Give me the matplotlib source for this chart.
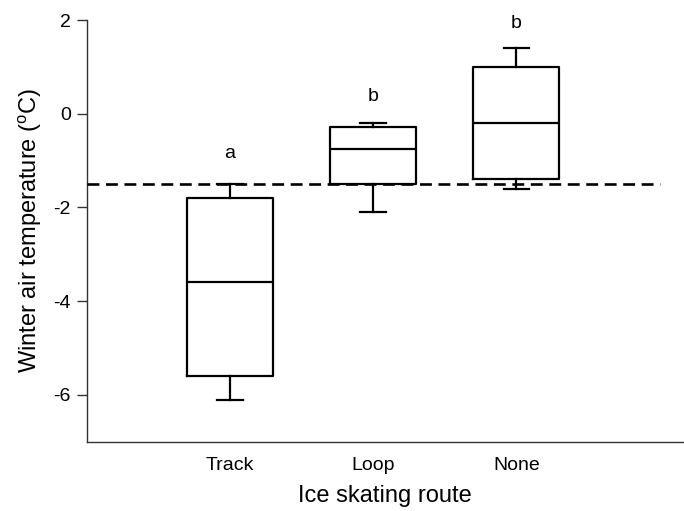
import matplotlib
matplotlib.use("Agg")
import matplotlib.pyplot as plt

plt.rcParams['font.family'] = ['Liberation Sans', 'DejaVu Sans']
plt.rcParams['mathtext.fontset'] = 'custom'
plt.rcParams['mathtext.rm'] = 'Liberation Sans'

categories = ["Track", "Loop", "None"]
whisker_low = [-6.1, -2.1, -1.6]
q1 = [-5.6, -1.5, -1.4]
median = [-3.6, -0.75, -0.2]
q3 = [-1.8, -0.28, 1.0]
whisker_high = [-1.5, -0.2, 1.4]
letters = ["a", "b", "b"]
letter_y = [-0.85, 0.37, 1.93]
reference_temp = -1.5
yticks = [2, 0, -2, -4, -6]

fig = plt.figure(figsize=(6.84, 5.11), dpi=100)
ax = fig.add_axes([0.1268, 0.1356, 0.8732, 0.8252])

positions = list(range(1, len(categories) + 1))
stats = []
for i in range(len(categories)):
    stats.append(dict(whislo=whisker_low[i], q1=q1[i], med=median[i],
                      q3=q3[i], whishi=whisker_high[i], fliers=[]))

lw = 1.6
ax.bxp(stats, positions=positions, widths=0.6, showfliers=False,
       boxprops=dict(color='black', linewidth=lw),
       medianprops=dict(color='black', linewidth=lw),
       whiskerprops=dict(color='black', linewidth=lw),
       capprops=dict(color='black', linewidth=lw),
       capwidths=0.18, zorder=3)

ax.hlines(reference_temp, 0, 4, colors='black', linestyles=(0, (4.5, 2.5)),
          linewidth=1.9, zorder=4)

for p, t, y in zip(positions, letters, letter_y):
    ax.text(p, y, t, ha='center', va='center', fontsize=14)

ax.set_xlim(0, 4.17)
ax.set_ylim(-7, 2)
ax.set_yticks(yticks)
ax.set_yticklabels([str(v) for v in yticks])
ax.set_xticks(positions)
ax.set_xticklabels(categories)
ax.tick_params(axis='y', length=7, width=1, pad=4.5, labelsize=14, color='#333333')
ax.tick_params(axis='x', length=0, pad=11, labelsize=14)

for s in ['top', 'right']:
    ax.spines[s].set_visible(False)
for s in ['left', 'bottom']:
    ax.spines[s].set_linewidth(1.0)
    ax.spines[s].set_color('#333333')

ax.set_ylabel("Winter air temperature ($^{\\rm o}$C)", fontsize=17, labelpad=7)
ax.set_xlabel("Ice skating route", fontsize=17, labelpad=8)

fig.savefig("out.png", dpi=100)
